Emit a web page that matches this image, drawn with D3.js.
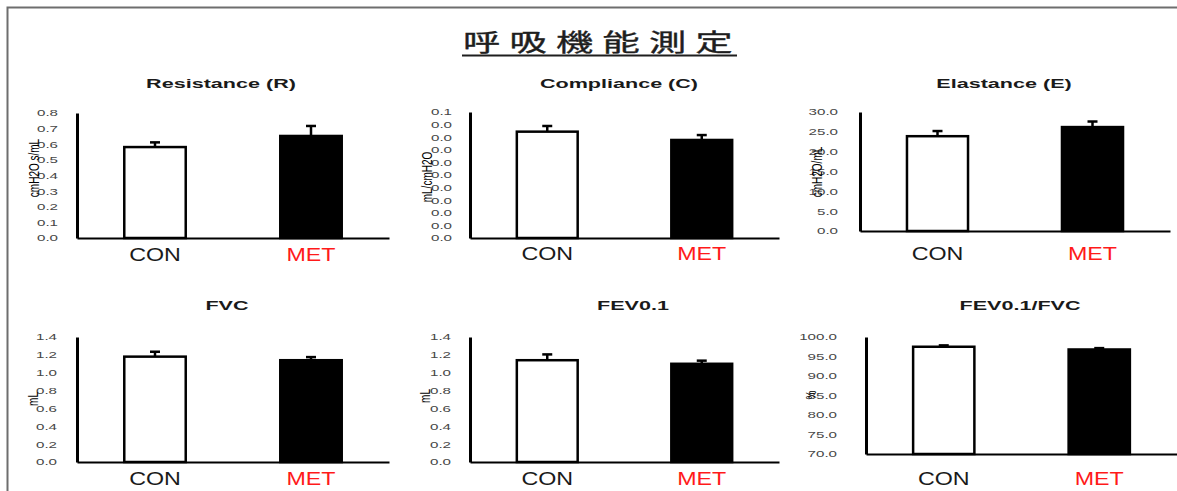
<!DOCTYPE html>
<html>
<head>
<meta charset="utf-8">
<script src="https://cdn.jsdelivr.net/npm/d3@7"></script>
<style>
  body { margin: 0; background: #fff; }
  svg { display: block; }
</style>
</head>
<body>
<svg id="chart" width="1177" height="491"></svg>
<script>
// ---- data ----
const groups = ["CON", "MET"];

const resistanceMean = [0.582, 0.653];
const resistanceErr  = [0.030, 0.064];
const resistanceDomain = [0, 0.8];
const resistanceTicks = ["0.0", "0.1", "0.2", "0.3", "0.4", "0.5", "0.6", "0.7", "0.8"];

const complianceMean = [0.0844, 0.0778];
const complianceErr  = [0.0045, 0.0039];
const complianceDomain = [0, 0.1];
const complianceTicks = ["0.0", "0.0", "0.0", "0.0", "0.0", "0.0", "0.0", "0.0", "0.0", "0.0", "0.1"];

const elastanceMean = [23.9, 26.2];
const elastanceErr  = [1.3, 1.4];
const elastanceDomain = [0, 30];
const elastanceTicks = ["0.0", "5.0", "10.0", "15.0", "20.0", "25.0", "30.0"];

const fvcMean = [1.18, 1.14];
const fvcErr  = [0.055, 0.035];
const fvcDomain = [0, 1.4];
const fvcTicks = ["0.0", "0.2", "0.4", "0.6", "0.8", "1.0", "1.2", "1.4"];

const fevMean = [1.14, 1.10];
const fevErr  = [0.065, 0.035];
const fevDomain = [0, 1.4];
const fevTicks = ["0.0", "0.2", "0.4", "0.6", "0.8", "1.0", "1.2", "1.4"];

const ratioMean = [97.5, 96.8];
const ratioErr  = [0.35, 0.35];
const ratioDomain = [70, 100];
const ratioTicks = ["70.0", "75.0", "80.0", "85.0", "90.0", "95.0", "100.0"];

const mainTitle = "呼吸機能測定";

// ---- panel layout ----
const panels = [
  { title: "Resistance (R)", unit: "cmH2O s/mL", mean: resistanceMean, err: resistanceErr, domain: resistanceDomain, ticks: resistanceTicks,
    x0: 77, x1: 389, yTop: 113, yBot: 238, pad: 19, titleX: 221, titleY: 88, unitX: 34, unitY: 168, labelY: 261 },
  { title: "Compliance (C)", unit: "mL/cmH2O", mean: complianceMean, err: complianceErr, domain: complianceDomain, ticks: complianceTicks,
    x0: 470, x1: 779, yTop: 112, yBot: 238, pad: 18, titleX: 619, titleY: 88, unitX: 427, unitY: 177, labelY: 260 },
  { title: "Elastance (E)", unit: "cmH2O/mL", mean: elastanceMean, err: elastanceErr, domain: elastanceDomain, ticks: elastanceTicks,
    x0: 860, x1: 1170, yTop: 112, yBot: 231, pad: 22, titleX: 1004, titleY: 88, unitX: 817, unitY: 172, labelY: 260 },
  { title: "FVC", unit: "mL", mean: fvcMean, err: fvcErr, domain: fvcDomain, ticks: fvcTicks,
    x0: 77, x1: 389, yTop: 337, yBot: 462, pad: 20, titleX: 227, titleY: 310, unitX: 33, unitY: 399, labelY: 485 },
  { title: "FEV0.1", unit: "mL", mean: fevMean, err: fevErr, domain: fevDomain, ticks: fevTicks,
    x0: 470, x1: 779, yTop: 337, yBot: 462, pad: 19, titleX: 633, titleY: 310, unitX: 425, unitY: 396, labelY: 485 },
  { title: "FEV0.1/FVC", unit: "%", mean: ratioMean, err: ratioErr, domain: ratioDomain, ticks: ratioTicks,
    x0: 866, x1: 1177, yTop: 337, yBot: 454, pad: 29, titleX: 1020, titleY: 310, unitX: 811, unitY: 395, labelY: 485 }
];

const svg = d3.select("#chart");

// frame around the slide
svg.append("path")
  .attr("d", "M7.5,491 V7.5 H1177")
  .attr("fill", "none")
  .attr("stroke", "#6e6e6e")
  .attr("stroke-width", 2);

// main heading, underlined
svg.append("text")
  .attr("transform", "translate(463,51) scale(1.55,1)")
  .attr("font-family", "'Noto Sans CJK JP', sans-serif")
  .attr("font-size", 24)
  .attr("letter-spacing", 6)
  .attr("fill", "#1e1e1e")
  .attr("stroke", "#1e1e1e")
  .attr("stroke-width", 0.35)
  .text(mainTitle);
svg.append("line")
  .attr("x1", 462).attr("x2", 737)
  .attr("y1", 55.5).attr("y2", 55.5)
  .attr("stroke", "#1e1e1e")
  .attr("stroke-width", 2);

panels.forEach(p => {
  const g = svg.append("g");

  const x = d3.scaleBand().domain(groups).range([p.x0, p.x1])
    .paddingInner(0.59).paddingOuter(0.295);
  const y = d3.scaleLinear().domain(p.domain).range([p.yBot, p.yTop]);
  const n = p.ticks.length;
  const tickVals = p.ticks.map((_, i) => p.domain[0] + i * (p.domain[1] - p.domain[0]) / (n - 1));

  // panel title
  g.append("text")
    .attr("transform", `translate(${p.titleX},${p.titleY}) scale(1.66,1)`)
    .attr("text-anchor", "middle")
    .attr("font-family", "'Liberation Sans', Arial, sans-serif")
    .attr("font-weight", "bold")
    .attr("font-size", 13)
    .attr("fill", "#1a1a1a")
    .text(p.title);

  // y axis
  const yAxis = d3.axisLeft(y)
    .tickValues(tickVals)
    .tickFormat((d, i) => p.ticks[i])
    .tickSizeInner(0).tickSizeOuter(0).tickPadding(0);
  const ya = g.append("g").attr("transform", `translate(${p.x0},0)`).call(yAxis);
  ya.select(".domain").attr("stroke", "#000").attr("stroke-width", 3);
  ya.selectAll(".tick line").remove();
  ya.selectAll(".tick text")
    .attr("x", null)
    .attr("dy", "0.35em")
    .attr("transform", `translate(${-p.pad},0) scale(1.8,1)`)
    .attr("font-family", "'Liberation Sans', Arial, sans-serif")
    .attr("font-size", 8.4)
    .attr("fill", "#474747");

  // x axis baseline
  const xAxis = d3.axisBottom(x).tickSize(0).tickFormat("");
  const xa = g.append("g").attr("transform", `translate(0,${p.yBot})`).call(xAxis);
  xa.select(".domain").attr("stroke", "#000").attr("stroke-width", 2);
  xa.selectAll(".tick").remove();

  // unit label
  g.append("text")
    .attr("transform", `translate(${p.unitX},${p.unitY}) scale(1.4,1) rotate(-90)`)
    .attr("text-anchor", "middle")
    .attr("dy", "0.35em")
    .attr("font-family", "'Liberation Sans', Arial, sans-serif")
    .attr("font-size", 10)
    .attr("fill", "#000")
    .text(p.unit);

  // error whiskers (upper only)
  const capW = 10;
  groups.forEach((grp, i) => {
    const cx = x(grp) + x.bandwidth() / 2;
    g.append("line")
      .attr("x1", cx).attr("x2", cx)
      .attr("y1", y(p.mean[i])).attr("y2", y(p.mean[i] + p.err[i]))
      .attr("stroke", "#000").attr("stroke-width", 2.5);
    g.append("line")
      .attr("x1", cx - capW / 2).attr("x2", cx + capW / 2)
      .attr("y1", y(p.mean[i] + p.err[i])).attr("y2", y(p.mean[i] + p.err[i]))
      .attr("stroke", "#000").attr("stroke-width", 2.5);
  });

  // bars
  const sw = 2.5;
  g.selectAll("rect.bar")
    .data(groups.map((grp, i) => ({ grp, v: p.mean[i] })))
    .join("rect")
    .attr("class", "bar")
    .attr("x", d => x(d.grp) + sw / 2)
    .attr("width", x.bandwidth() - sw)
    .attr("y", d => y(d.v))
    .attr("height", d => y(p.domain[0]) - y(d.v))
    .attr("fill", d => d.grp === "CON" ? "#fff" : "#000")
    .attr("stroke", "#000")
    .attr("stroke-width", sw);

  // group labels
  g.selectAll("text.grp")
    .data(groups)
    .join("text")
    .attr("class", "grp")
    .attr("transform", d => `translate(${x(d) + x.bandwidth() / 2},${p.labelY}) scale(1.33,1)`)
    .attr("text-anchor", "middle")
    .attr("font-family", "'Liberation Sans', Arial, sans-serif")
    .attr("font-size", 17.5)
    .attr("fill", d => d === "CON" ? "#1a1a1a" : "#ff1a1a")
    .text(d => d);
});
</script>
</body>
</html>
